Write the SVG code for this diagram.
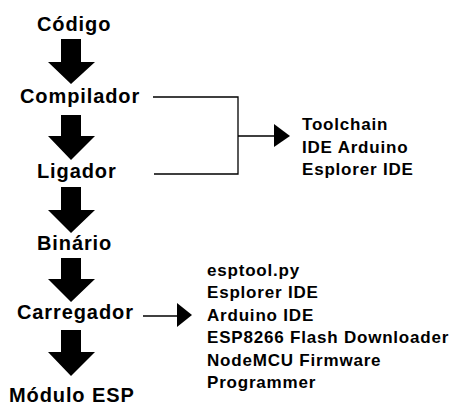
<svg xmlns="http://www.w3.org/2000/svg" width="456" height="413" viewBox="0 0 456 413">
<style>
.main{font-family:"Liberation Sans",Arial,sans-serif;font-weight:bold;font-size:20px;fill:#000;letter-spacing:0.9px}
.sub{font-family:"Liberation Sans",Arial,sans-serif;font-weight:bold;font-size:17px;fill:#000;letter-spacing:0.8px}
.ln{stroke:#000;stroke-width:1.3;fill:none}
.big{fill:#000}
</style>
<rect width="456" height="413" fill="#fff"/>
<g id="connectors">
<path class="big" d="M61,39 H81 V62 H95 L71,84 L48,62 H61 Z"/>
<path class="big" d="M61,115 H81 V136 H95 L71,160 L48,136 H61 Z"/>
<path class="big" d="M61,187 H81 V210 H95 L71,233 L48,210 H61 Z"/>
<path class="big" d="M61,258 H81 V279 H95 L71,302 L48,279 H61 Z"/>
<path class="big" d="M61,330 H81 V352 H95 L71,376 L48,352 H61 Z"/>
<path class="ln" d="M153,97 H238 V174 H154 M238,136 H275"/>
<polygon class="big" points="274,124 290,136 274,147"/>
<path class="ln" d="M143,316 H178"/>
<polygon class="big" points="177,303 192,315 177,327"/>
</g>
<g id="codigo"><text class="main" x="37" y="31">Código</text></g>
<g id="compilador"><text class="main" x="20" y="103">Compilador</text></g>
<g id="ligador"><text class="main" x="37" y="178">Ligador</text></g>
<g id="binario"><text class="main" x="37" y="250">Binário</text></g>
<g id="carregador"><text class="main" x="17" y="319">Carregador</text></g>
<g id="modulo-esp"><text class="main" x="9" y="402">Módulo ESP</text></g>
<g id="ferramentas-compilacao">
<text class="sub" x="302" y="130">Toolchain</text>
<text class="sub" x="302" y="153">IDE Arduino</text>
<text class="sub" x="302" y="175">Esplorer IDE</text>
</g>
<g id="ferramentas-carga">
<text class="sub" x="207" y="276">esptool.py</text>
<text class="sub" x="207" y="298">Esplorer IDE</text>
<text class="sub" x="207" y="321">Arduino IDE</text>
<text class="sub" x="207" y="343">ESP8266 Flash Downloader</text>
<text class="sub" x="207" y="366">NodeMCU Firmware</text>
<text class="sub" x="207" y="388">Programmer</text>
</g>
</svg>
